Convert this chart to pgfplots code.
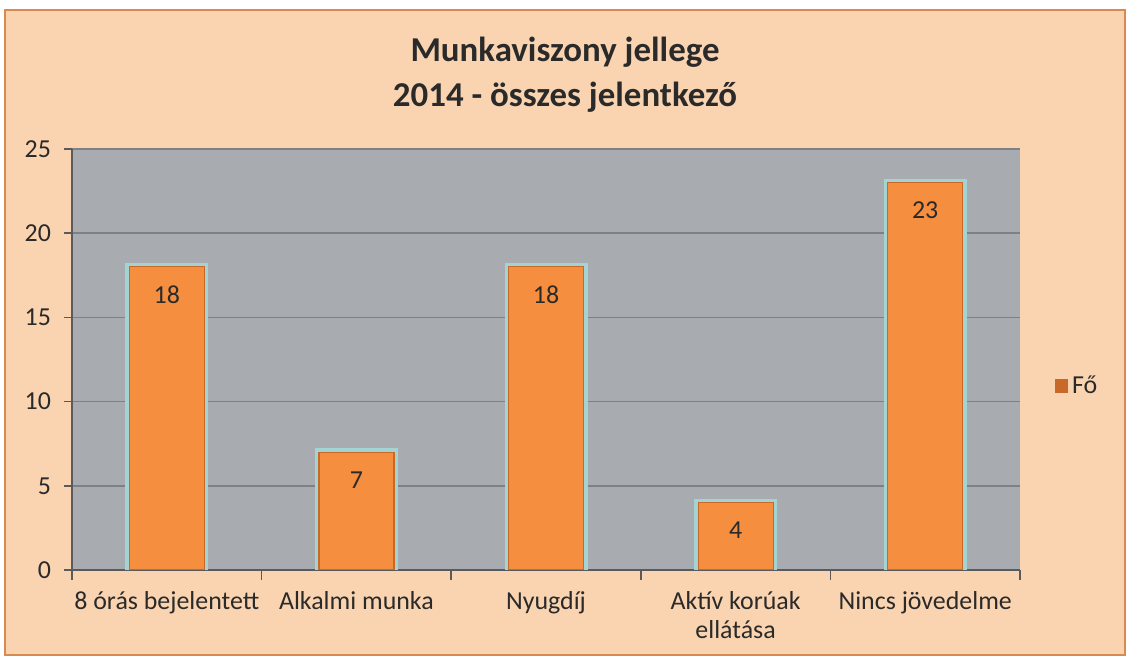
\documentclass[border=0pt]{standalone}
\usepackage{fontspec}
\setmainfont{Carlito}
\usepackage{pgfplots}
\pgfplotsset{compat=1.18}
\definecolor{peach}{HTML}{FAD4B0}
\definecolor{frameOr}{HTML}{D98A50}
\definecolor{plotGray}{HTML}{A8ABAF}
\definecolor{gridGray}{HTML}{7E8084}
\definecolor{barOr}{HTML}{F58F3F}
\definecolor{barEdge}{HTML}{C8692A}
\definecolor{glow}{HTML}{A3D3D2}
\definecolor{txt}{HTML}{2A2A2A}

\begin{document}
\begin{tikzpicture}
% page and chart background (1px = 0.5bp)
\fill[white] (-36bp,-46bp) rectangle (529bp,285bp);
\filldraw[fill=peach, draw=frameOr, line width=1bp] (-33.5bp,-42.5bp) rectangle (526.5bp,280bp);
\node[font=\fontsize{17.5}{20}\selectfont\bfseries, text=txt] at (246.5bp,259bp) {Munkaviszony jellege};
\node[font=\fontsize{17.5}{20}\selectfont\bfseries, text=txt] at (246.5bp,236.5bp) {2014 - összes jelentkező};

\begin{axis}[
  at={(0,0)}, anchor=south west,
  scale only axis,
  width=474bp, height=210.5bp,
  xmin=0, xmax=5,
  ymin=0, ymax=25,
  ytick={0,5,...,25},
  xtick={0.5,1.5,2.5,3.5,4.5},
  xticklabels={8 órás bejelentett, Alkalmi munka, Nyugdíj, {Aktív korúak\\ellátása}, Nincs jövedelme},
  minor xtick={0,1,2,3,4,5},
  major x tick style={draw=none},
  minor tick length=5bp,
  major tick length=4bp,
  tick align=outside,
  axis x line*=bottom,
  axis y line*=left,
  axis line style={draw=gridGray!70!black, line width=0.8bp},
  tick style={draw=gridGray!70!black, line width=0.8bp},
  ymajorgrids=true,
  grid style={draw=gridGray, line width=0.8bp},
  axis background/.style={fill=plotGray},
  ticklabel style={font=\fontsize{13}{15}\selectfont, text=txt},
  xticklabel style={align=center, yshift=-3bp},
  yticklabel style={xshift=-3bp},
  /pgf/number format/assume math mode=true,
  legend style={at={(1.03,0.437)}, anchor=west, draw=none, fill=none,
                font=\fontsize{13}{15}\selectfont, text=txt},
  legend image code/.code={\fill[barEdge] (0bp,-3bp) rectangle (6bp,3bp);},
]
\addplot[ybar, bar width=37.5bp, bar shift=0pt, fill=glow, draw=glow, line width=4bp, forget plot]
  coordinates {(0.5,18) (1.5,7) (2.5,18) (3.5,4) (4.5,23)};
\addplot[ybar, bar width=37.5bp, bar shift=0pt, fill=barOr, draw=barEdge, line width=0.6bp,
  nodes near coords,
  nodes near coords style={anchor=center, yshift=-14bp, font=\fontsize{13}{15}\selectfont, text=txt,
    /pgf/number format/assume math mode=true}]
  coordinates {(0.5,18) (1.5,7) (2.5,18) (3.5,4) (4.5,23)};
\addlegendentry{Fő}
\end{axis}
\end{tikzpicture}
\end{document}
